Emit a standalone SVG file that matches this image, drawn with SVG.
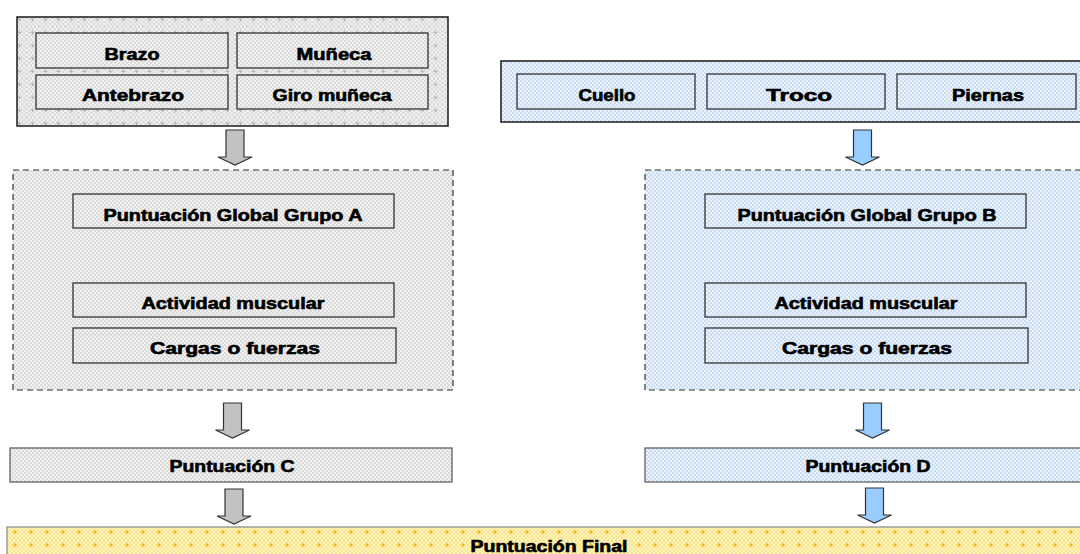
<svg xmlns="http://www.w3.org/2000/svg" width="1080" height="554" viewBox="0 0 1080 554">
<defs>
<pattern id="pg" width="4" height="4" patternUnits="userSpaceOnUse"><rect width="4" height="4" fill="#f1f1f1"/><rect width="2" height="2" fill="#dadada"/><rect x="2" y="2" width="2" height="2" fill="#dadada"/></pattern>
<pattern id="pgp" width="13" height="13" patternUnits="userSpaceOnUse"><rect width="13" height="13" fill="url(#pg)"/><path d="M6.5 4.5v4M4.5 6.5h4" stroke="#b4b4b4" stroke-width="1"/></pattern>
<pattern id="pb" width="4" height="4" patternUnits="userSpaceOnUse"><rect width="4" height="4" fill="#eaf2fc"/><rect width="2" height="2" fill="#c9dcf2"/><rect x="2" y="2" width="2" height="2" fill="#c9dcf2"/></pattern>
<pattern id="py" width="4" height="4" patternUnits="userSpaceOnUse"><rect width="4" height="4" fill="#fff5bf"/><rect width="2" height="2" fill="#f7e290"/><rect x="2" y="2" width="2" height="2" fill="#f7e290"/></pattern>
<pattern id="pyp" x="7" y="527" width="16" height="13" patternUnits="userSpaceOnUse"><rect width="16" height="13" fill="url(#py)"/><path d="M8 3v4M6 5h4" stroke="#f0b400" stroke-width="1.2"/></pattern>
<path id="arr" d="M-9 0H9V27H17L0 35L-17 27H-9Z"/>
</defs>
<style>
.lbl{font-family:"Liberation Sans",Arial,sans-serif;font-size:16px;font-weight:bold;fill:#000;stroke:#000;stroke-width:0.6;text-anchor:middle}
.outerS{stroke:#1a1a1a;stroke-width:1.5}
.dash{stroke:#333;stroke-width:1.2;stroke-dasharray:6 4}
.inner{stroke:#333;stroke-width:1.3}
.ag{fill:#c2c2c2;stroke:#333;stroke-width:1.2}
.ab{fill:#99ccff;stroke:#333;stroke-width:1.2}
</style>

<g id="grupoA">
<rect x="17" y="17" width="431" height="109" fill="url(#pgp)" class="outerS"/>
</g>
<g id="brazo"><rect x="36" y="33" width="192" height="35" fill="url(#pg)" class="inner"/><text x="132" y="60" class="lbl" textLength="55" lengthAdjust="spacingAndGlyphs">Brazo</text></g>
<g id="muneca"><rect x="237" y="33" width="191" height="35" fill="url(#pg)" class="inner"/><text x="334" y="60" class="lbl" textLength="75" lengthAdjust="spacingAndGlyphs">Muñeca</text></g>
<g id="antebrazo"><rect x="36" y="75" width="192" height="34" fill="url(#pg)" class="inner"/><text x="133" y="101" class="lbl" textLength="102" lengthAdjust="spacingAndGlyphs">Antebrazo</text></g>
<g id="giro"><rect x="237" y="75" width="191" height="34" fill="url(#pg)" class="inner"/><text x="332" y="101" class="lbl" textLength="119" lengthAdjust="spacingAndGlyphs">Giro muñeca</text></g>

<g id="grupoB">
<rect x="501" y="61" width="590" height="61" fill="url(#pb)" class="outerS"/>
</g>
<g id="cuello"><rect x="517" y="74" width="178" height="35" fill="url(#pb)" class="inner"/><text x="607" y="101" class="lbl" textLength="57" lengthAdjust="spacingAndGlyphs">Cuello</text></g>
<g id="tronco"><rect x="707" y="74" width="178" height="35" fill="url(#pb)" class="inner"/><text x="799" y="101" class="lbl" textLength="66" lengthAdjust="spacingAndGlyphs">Troco</text></g>
<g id="piernas"><rect x="897" y="74" width="179" height="35" fill="url(#pb)" class="inner"/><text x="988" y="101" class="lbl" textLength="72" lengthAdjust="spacingAndGlyphs">Piernas</text></g>

<g id="bloqueA">
<rect x="13" y="170" width="440" height="220" fill="url(#pg)" class="dash"/>
</g>
<g id="globalA"><rect x="73" y="194" width="321" height="34" fill="url(#pg)" class="inner"/><text x="233" y="221" class="lbl" textLength="259" lengthAdjust="spacingAndGlyphs">Puntuación Global Grupo A</text></g>
<g id="actividadA"><rect x="73" y="283" width="321" height="34" fill="url(#pg)" class="inner"/><text x="233" y="309" class="lbl" textLength="183" lengthAdjust="spacingAndGlyphs">Actividad muscular</text></g>
<g id="cargasA"><rect x="73" y="328" width="323" height="35" fill="url(#pg)" class="inner"/><text x="235" y="354" class="lbl" textLength="170" lengthAdjust="spacingAndGlyphs">Cargas o fuerzas</text></g>

<g id="bloqueB">
<rect x="645" y="170" width="445" height="220" fill="url(#pb)" class="dash"/>
</g>
<g id="globalB"><rect x="705" y="194" width="321" height="34" fill="url(#pb)" class="inner"/><text x="867" y="221" class="lbl" textLength="259" lengthAdjust="spacingAndGlyphs">Puntuación Global Grupo B</text></g>
<g id="actividadB"><rect x="705" y="283" width="321" height="34" fill="url(#pb)" class="inner"/><text x="866" y="309" class="lbl" textLength="183" lengthAdjust="spacingAndGlyphs">Actividad muscular</text></g>
<g id="cargasB"><rect x="705" y="328" width="323" height="35" fill="url(#pb)" class="inner"/><text x="867" y="354" class="lbl" textLength="170" lengthAdjust="spacingAndGlyphs">Cargas o fuerzas</text></g>

<g id="puntC"><rect x="10" y="448" width="442" height="34" fill="url(#pg)" stroke="#555" stroke-width="1.2"/><text x="232" y="472" class="lbl" textLength="125" lengthAdjust="spacingAndGlyphs">Puntuación C</text></g>
<g id="puntD"><rect x="645" y="448" width="445" height="34" fill="url(#pb)" stroke="#555" stroke-width="1.2"/><text x="868" y="472" class="lbl" textLength="125" lengthAdjust="spacingAndGlyphs">Puntuación D</text></g>

<g id="final"><rect x="7" y="527" width="1085" height="40" fill="url(#pyp)" stroke="#888" stroke-width="1.2"/><text x="549" y="552" class="lbl" textLength="157" lengthAdjust="spacingAndGlyphs">Puntuación Final</text></g>

<g id="connectors">
<use href="#arr" x="235" y="130" class="ag"/>
<use href="#arr" x="862.5" y="130" class="ab"/>
<use href="#arr" x="232.5" y="403" class="ag"/>
<use href="#arr" x="872.5" y="403" class="ab"/>
<use href="#arr" x="234" y="489" class="ag"/>
<use href="#arr" x="874.5" y="488" class="ab"/>
</g>
</svg>
